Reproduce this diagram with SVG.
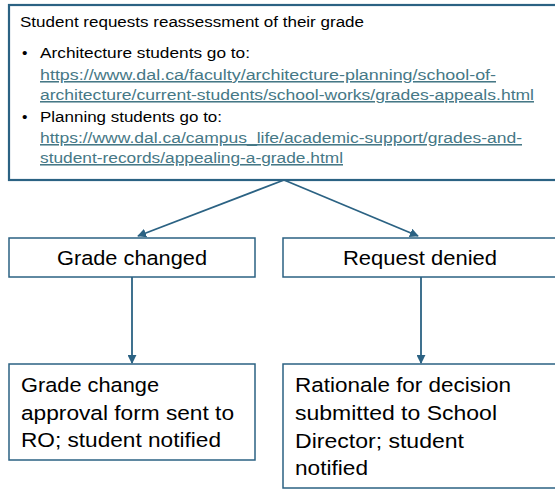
<svg xmlns="http://www.w3.org/2000/svg" width="555" height="489" viewBox="0 0 555 489">
  <style>
    .box { fill: #ffffff; stroke: #2b6283; stroke-width: 1.5; }
    .box-main { fill: #ffffff; stroke: #2b6283; stroke-width: 2.2; }
    .txt { font-family: "Liberation Sans", Arial, sans-serif; fill: #000000; }
    .small { font-size: 15.5px; }
    .big { font-size: 20.5px; }
    .link { fill: #467886; text-decoration: underline; }
    .edge { stroke: #2b6283; stroke-width: 1.8; fill: none; marker-end: url(#arrow); }
  </style>
  <defs>
    <marker id="arrow" viewBox="0 0 10 10" refX="9" refY="5" markerWidth="5" markerHeight="5" orient="auto" markerUnits="strokeWidth">
      <path d="M0,0 L10,5 L0,10 z" fill="#2b6283"/>
    </marker>
  </defs>

  <g id="connectors">
    <line class="edge" x1="284" y1="180" x2="138" y2="236"/>
    <line class="edge" x1="284" y1="180" x2="418" y2="236"/>
    <line class="edge" x1="132" y1="277" x2="132" y2="363"/>
    <line class="edge" x1="421" y1="277" x2="421" y2="363"/>
  </g>

  <g id="request">
    <rect class="box-main" x="9" y="5" width="552" height="175"/>
    <text class="txt small" x="20" y="27" textLength="344" lengthAdjust="spacingAndGlyphs">Student requests reassessment of their grade</text>
    <text class="txt small" x="22" y="58">•</text>
    <text class="txt small" x="40" y="58" textLength="210" lengthAdjust="spacingAndGlyphs">Architecture students go to:</text>
    <text class="txt small link" x="40" y="80" textLength="456" lengthAdjust="spacingAndGlyphs">https://www.dal.ca/faculty/architecture-planning/school-of-</text>
    <text class="txt small link" x="40" y="100" textLength="494" lengthAdjust="spacingAndGlyphs">architecture/current-students/school-works/grades-appeals.html</text>
    <text class="txt small" x="22" y="122">•</text>
    <text class="txt small" x="40" y="122" textLength="182" lengthAdjust="spacingAndGlyphs">Planning students go to:</text>
    <text class="txt small link" x="40" y="143" textLength="482" lengthAdjust="spacingAndGlyphs">https://www.dal.ca/campus_life/academic-support/grades-and-</text>
    <text class="txt small link" x="40" y="163" textLength="303" lengthAdjust="spacingAndGlyphs">student-records/appealing-a-grade.html</text>
  </g>

  <g id="grade-changed">
    <rect class="box" x="9" y="238" width="246" height="39"/>
    <text class="txt big" x="57" y="265" textLength="150" lengthAdjust="spacingAndGlyphs">Grade changed</text>
  </g>

  <g id="request-denied">
    <rect class="box" x="283" y="238" width="278" height="39"/>
    <text class="txt big" x="343" y="265" textLength="154" lengthAdjust="spacingAndGlyphs">Request denied</text>
  </g>

  <g id="grade-change-form">
    <rect class="box" x="9" y="364" width="246" height="96"/>
    <text class="txt big" x="21" y="392" textLength="138" lengthAdjust="spacingAndGlyphs">Grade change</text>
    <text class="txt big" x="21" y="420" textLength="213" lengthAdjust="spacingAndGlyphs">approval form sent to</text>
    <text class="txt big" x="21" y="447" textLength="200" lengthAdjust="spacingAndGlyphs">RO; student notified</text>
  </g>

  <g id="rationale">
    <rect class="box" x="283" y="364" width="278" height="124"/>
    <text class="txt big" x="295" y="392" textLength="216" lengthAdjust="spacingAndGlyphs">Rationale for decision</text>
    <text class="txt big" x="295" y="420" textLength="202" lengthAdjust="spacingAndGlyphs">submitted to School</text>
    <text class="txt big" x="295" y="448" textLength="169" lengthAdjust="spacingAndGlyphs">Director; student</text>
    <text class="txt big" x="295" y="475" textLength="73" lengthAdjust="spacingAndGlyphs">notified</text>
  </g>
</svg>
